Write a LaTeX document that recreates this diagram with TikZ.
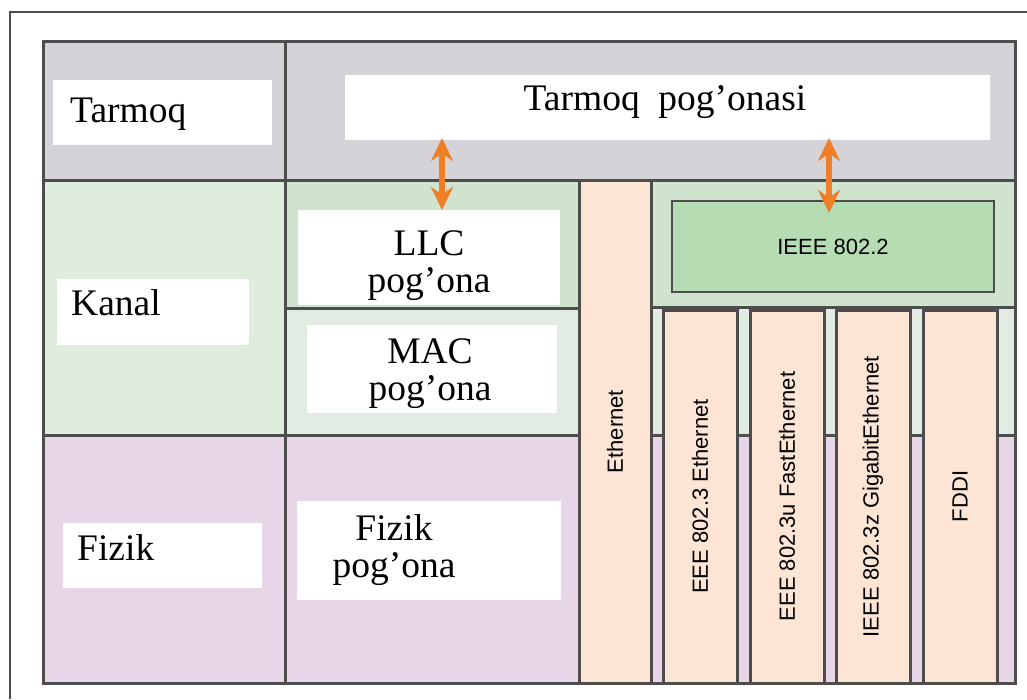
\documentclass[tikz,border=0pt]{standalone}
\usepackage{fontspec}
\setmainfont{Liberation Serif}
\setsansfont{Liberation Sans}
\usepackage{tikz}
\usetikzlibrary{arrows.meta,positioning}

\definecolor{gridline}{HTML}{4D4D4D}
\definecolor{rowgray}{HTML}{D5D3D8}
\definecolor{kanalgreen}{HTML}{DEEDDC}
\definecolor{llcgreen}{HTML}{CFE3CE}
\definecolor{macgreen}{HTML}{E3ECE3}
\definecolor{ieeegreen}{HTML}{B6DCB4}
\definecolor{fizpurple}{HTML}{E6D6E8}
\definecolor{peach}{HTML}{FDE5D6}
\definecolor{arroworange}{HTML}{F07E26}

\begin{document}
\begin{tikzpicture}[
    x=1pt, y=-1pt,
    cell/.style={rectangle, draw=gridline, line width=3pt, inner sep=0pt, outer sep=0pt, anchor=north west},
    wbox/.style={rectangle, fill=white, inner sep=0pt, outer sep=0pt, anchor=north west},
    lbl/.style={font=\fontsize{37.5}{37}\selectfont, inner sep=0pt, align=center},
    col/.style={cell, fill=peach, font=\sffamily\fontsize{22}{22}\selectfont},
    arrow/.style={{Stealth[length=23pt,width=22pt]}-{Stealth[length=23pt,width=22pt]}, line width=5.5pt, draw=arroworange}
]
    \useasboundingbox (0,0) rectangle (1027,699);
    \draw[gridline, line width=1.5pt] (10,699) -- (10,12) -- (1027,12);

    % rows
    \node[cell, fill=rowgray, minimum width=242pt, minimum height=139pt] (tarmoqcell) at (43,41) {};
    \node[cell, fill=rowgray, minimum width=730pt, minimum height=139pt] (tarmoqpcell) at (285,41) {};
    \node[cell, fill=kanalgreen, minimum width=242pt, minimum height=255pt] (kanalcell) at (43,180) {};
    \node[cell, fill=llcgreen, minimum width=294pt, minimum height=128pt] (llccell) at (285,180) {};
    \node[cell, fill=macgreen, minimum width=294pt, minimum height=127pt] (maccell) at (285,308) {};
    \node[cell, fill=llcgreen, minimum width=364pt, minimum height=127pt] (ieeecell) at (651,180) {};
    \node[cell, fill=macgreen, minimum width=364pt, minimum height=128pt] (gapcell) at (651,307) {};
    \node[cell, fill=fizpurple, minimum width=242pt, minimum height=248pt] (fizikcell) at (43,435) {};
    \node[cell, fill=fizpurple, minimum width=294pt, minimum height=248pt] (fizikpcell) at (285,435) {};
    \node[cell, fill=fizpurple, minimum width=364pt, minimum height=248pt] (lowcell) at (651,435) {};

    % standards
    \node[col, minimum width=72pt, minimum height=503pt] (ethernet) at (579,180) {\rotatebox{90}{Ethernet}};
    \foreach \x/\name/\txt in {663/eee/EEE 802.3 Ethernet, 750/fast/EEE 802.3u FastEthernet, 836/giga/IEEE 802.3z GigabitEthernet, 923/fddi/FDDI}
        \node[col, minimum width=74pt, minimum height=373pt] (\name) at (\x,310) {\rotatebox{90}{\txt}};
    \node[cell, line width=2pt, fill=ieeegreen, minimum width=322pt, minimum height=91pt, font=\sffamily\fontsize{22}{22}\selectfont] (ieee) at (672,201) {IEEE 802.2};

    % labels
    \node[wbox, minimum width=219pt, minimum height=65pt] (tarmoqbox) at (53,80) {};
    \node[wbox, minimum width=645pt, minimum height=65pt] (tarmoqpbox) at (345,75) {};
    \node[wbox, minimum width=192pt, minimum height=66pt] (kanalbox) at (57,279) {};
    \node[wbox, minimum width=262pt, minimum height=95pt] (llcbox) at (298,210) {};
    \node[wbox, minimum width=250pt, minimum height=88pt] (macbox) at (307,325) {};
    \node[wbox, minimum width=199pt, minimum height=65pt] (fizikbox) at (63,523) {};
    \node[wbox, minimum width=264pt, minimum height=99pt] (fizikpbox) at (297,501) {};

    \node[lbl, anchor=base west] (tarmoq) at (70,122) {Tarmoq};
    \node[lbl, anchor=base] (tarmoqp) at (665,110) {Tarmoq\ \ pog’onasi};
    \node[lbl, anchor=base west] (kanal) at (71,315) {Kanal};
    \node[lbl, anchor=base west] (fizik) at (77,560) {Fizik};
    \node[lbl] (llc) at (429,266) {LLC\\pog’ona};
    \node[lbl] (mac) at (430,374) {MAC\\pog’ona};
    \node[lbl] (fizikp) at (394,550) {Fizik\\pog’ona};

    \coordinate (la) at (442,0);
    \coordinate (ra) at (829,0);
    \draw[arrow, shorten <=-2pt] (tarmoqpbox.south -| la) -- (llcbox.north -| la);
    \draw[arrow, shorten <=-2pt, shorten >=-12pt] (tarmoqpbox.south -| ra) -- (ieee.north -| ra);
\end{tikzpicture}
\end{document}
